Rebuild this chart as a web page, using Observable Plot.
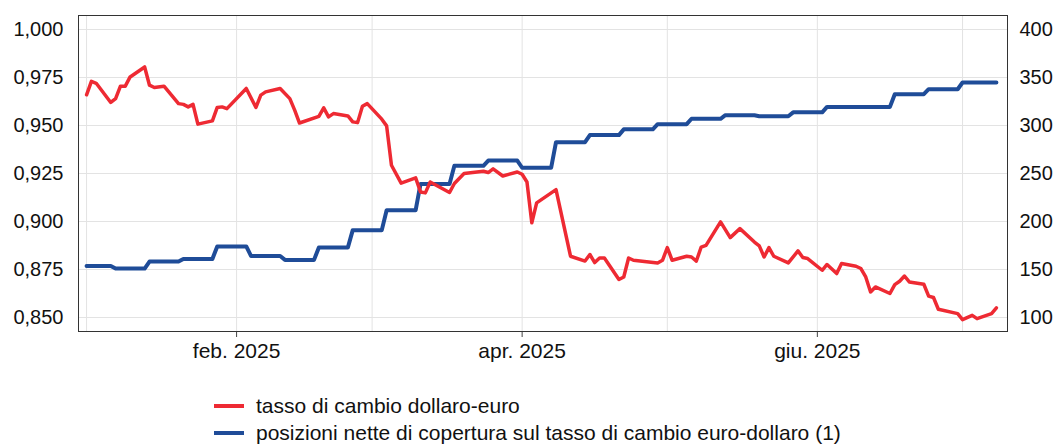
<!DOCTYPE html>
<html>
<head>
<meta charset="utf-8">
<script src="https://cdn.jsdelivr.net/npm/d3@7"></script>
<script src="https://cdn.jsdelivr.net/npm/@observablehq/plot@0.6"></script>
<style>
  html, body { margin: 0; padding: 0; background: #fff; }
  body { width: 1057px; height: 444px; position: relative; overflow: hidden; font-family: "Liberation Sans", Arial, sans-serif; }
  #chart { position: absolute; left: 0; top: 0; }
  #legend { position: absolute; left: 214px; top: 392px; font-size: 21px; color: #111; }
  .row { display: flex; align-items: center; height: 27px; }
  .sw { width: 30px; height: 4px; margin-right: 12px; }
</style>
</head>
<body>
<div id="chart"></div>
<div id="legend"></div>
<script>
// tasso di cambio dollaro-euro (left axis)
const redDates = ["2025-01-01","2025-01-02","2025-01-03","2025-01-06","2025-01-07","2025-01-08","2025-01-09","2025-01-10","2025-01-13","2025-01-14","2025-01-15","2025-01-17","2025-01-20","2025-01-21","2025-01-22","2025-01-23","2025-01-24","2025-01-27","2025-01-28","2025-01-29","2025-01-30","2025-02-03","2025-02-05","2025-02-06","2025-02-07","2025-02-10","2025-02-12","2025-02-13","2025-02-14","2025-02-18","2025-02-19","2025-02-20","2025-02-21","2025-02-24","2025-02-25","2025-02-26","2025-02-27","2025-02-28","2025-03-03","2025-03-04","2025-03-05","2025-03-07","2025-03-10","2025-03-11","2025-03-12","2025-03-13","2025-03-17","2025-03-18","2025-03-20","2025-03-24","2025-03-25","2025-03-26","2025-03-28","2025-03-31","2025-04-01","2025-04-02","2025-04-03","2025-04-04","2025-04-08","2025-04-11","2025-04-14","2025-04-15","2025-04-16","2025-04-17","2025-04-18","2025-04-21","2025-04-22","2025-04-23","2025-04-24","2025-04-29","2025-04-30","2025-05-01","2025-05-02","2025-05-05","2025-05-06","2025-05-07","2025-05-08","2025-05-09","2025-05-12","2025-05-14","2025-05-16","2025-05-19","2025-05-20","2025-05-21","2025-05-22","2025-05-23","2025-05-26","2025-05-28","2025-05-29","2025-05-30","2025-06-02","2025-06-03","2025-06-05","2025-06-06","2025-06-09","2025-06-10","2025-06-11","2025-06-12","2025-06-13","2025-06-16","2025-06-17","2025-06-18","2025-06-19","2025-06-20","2025-06-23","2025-06-24","2025-06-25","2025-06-26","2025-06-30","2025-07-01","2025-07-03","2025-07-04","2025-07-07","2025-07-08"];
const redValues = [0.966,0.973,0.972,0.962,0.964,0.9705,0.9705,0.9753,0.9805,0.971,0.9698,0.9705,0.9614,0.961,0.9597,0.961,0.9507,0.9524,0.9594,0.9597,0.9588,0.9693,0.9594,0.9658,0.9675,0.9693,0.964,0.958,0.9513,0.9548,0.9592,0.9545,0.9562,0.955,0.9519,0.9515,0.960,0.9614,0.9533,0.9498,0.9293,0.920,0.9227,0.9154,0.9149,0.9206,0.9151,0.9198,0.925,0.9262,0.9255,0.9274,0.9237,0.9258,0.9246,0.9206,0.8993,0.9097,0.9166,0.8819,0.8794,0.8828,0.8786,0.881,0.881,0.8698,0.8711,0.881,0.8798,0.8784,0.8798,0.8864,0.8798,0.8819,0.8815,0.8794,0.8867,0.8876,0.8998,0.8916,0.8963,0.8893,0.8873,0.8815,0.8864,0.8819,0.8784,0.8847,0.8812,0.8807,0.8746,0.8776,0.8729,0.8781,0.8767,0.8755,0.8711,0.8633,0.8659,0.8625,0.8671,0.8689,0.8716,0.8685,0.8673,0.8611,0.8604,0.8543,0.852,0.8489,0.8511,0.8494,0.852,0.855];

// posizioni nette di copertura (right axis): weekly values, held from week start
const blueWeekStart = ["2025-01-01","2025-01-07","2025-01-14","2025-01-21","2025-01-28","2025-02-04","2025-02-11","2025-02-18","2025-02-25","2025-03-04","2025-03-11","2025-03-18","2025-03-25","2025-04-01","2025-04-08","2025-04-15","2025-04-22","2025-04-29","2025-05-06","2025-05-13","2025-05-20","2025-05-27","2025-06-03","2025-06-10","2025-06-17","2025-06-24","2025-07-01"];
const blueValues = [153.7,151,158.3,161,174,164,160,173,191,211.8,239,258,263.5,256,282.6,290,296,301.4,307,310.7,309.7,313.7,319.4,319.4,332.6,337.8,344.8];
const blueEnd = "2025-07-08";

// axis ticks
const leftTicks = [0.850,0.875,0.900,0.925,0.950,0.975,1.000];
const monthGrid = ["2025-01-01","2025-02-01","2025-03-01","2025-04-01","2025-05-01","2025-06-01","2025-07-01"];
const xTickDates = ["2025-02-01","2025-04-01","2025-06-01"];
const xTickLabels = ["feb. 2025","apr. 2025","giu. 2025"];

const seriesNames = ["tasso di cambio dollaro-euro","posizioni nette di copertura sul tasso di cambio euro-dollaro (1)"];
const colors = ["#ee2a33","#1f4c98"];

const parse = s => new Date(s + "T00:00:00Z");
const DAY = 86400000;
// right axis value r -> left scale value
const toLeft = r => 0.85 + (r - 100) * 0.0005;
const fromLeft = v => Math.round((v - 0.85) / 0.0005 + 100);

const red = redDates.map((d, i) => ({date: parse(d), v: redValues[i]}));
const blue = [];
blueWeekStart.forEach((d, i) => {
  const start = parse(d);
  const end = i < blueWeekStart.length - 1 ? new Date(parse(blueWeekStart[i + 1]) - DAY) : parse(blueEnd);
  blue.push({date: start, v: toLeft(blueValues[i])});
  blue.push({date: end, v: toLeft(blueValues[i])});
});

const fmtL = d => d3.format(".3f")(d).replace(".", ",");
const xLab = new Map(xTickDates.map((d, i) => [+parse(d), xTickLabels[i]]));

const chart = Plot.plot({
  width: 1057,
  height: 370,
  marginTop: 15,
  marginBottom: 39,
  marginLeft: 78,
  marginRight: 50,
  style: {fontFamily: "'Liberation Sans', Arial, sans-serif", color: "#111", background: "#fff"},
  x: {type: "utc", domain: [new Date(Date.UTC(2024, 11, 30, 8)), new Date(Date.UTC(2025, 6, 10, 7))]},
  y: {domain: [0.8427, 1.0073]},
  marks: [
    Plot.gridX(monthGrid.map(parse), {stroke: "#e3e3e3", strokeOpacity: 1, strokeWidth: 1}),
    Plot.gridY(leftTicks, {stroke: "#e3e3e3", strokeOpacity: 1, strokeWidth: 1}),
    Plot.axisY(leftTicks, {anchor: "left", tickSize: 0, tickPadding: 15, tickFormat: fmtL, fontSize: 20, label: null}),
    Plot.axisY(leftTicks, {anchor: "right", tickSize: 0, tickPadding: 12, tickFormat: fromLeft, fontSize: 20, label: null}),
    Plot.axisX(xTickDates.map(parse), {tickSize: 6, tickPadding: 6, stroke: "#444", tickFormat: d => xLab.get(+d), fontSize: 21, label: null}),
    Plot.line(blue, {x: "date", y: "v", stroke: colors[1], strokeWidth: 4, strokeLinejoin: "round"}),
    Plot.line(red, {x: "date", y: "v", stroke: colors[0], strokeWidth: 3.5, strokeLinejoin: "round"}),
    Plot.frame({stroke: "#333", strokeWidth: 1})
  ]
});
document.getElementById("chart").appendChild(chart);

const legend = document.getElementById("legend");
seriesNames.forEach((name, i) => {
  const row = document.createElement("div");
  row.className = "row";
  const sw = document.createElement("span");
  sw.className = "sw";
  sw.style.background = colors[i];
  const t = document.createElement("span");
  t.textContent = name;
  row.appendChild(sw);
  row.appendChild(t);
  legend.appendChild(row);
});
</script>
</body>
</html>
